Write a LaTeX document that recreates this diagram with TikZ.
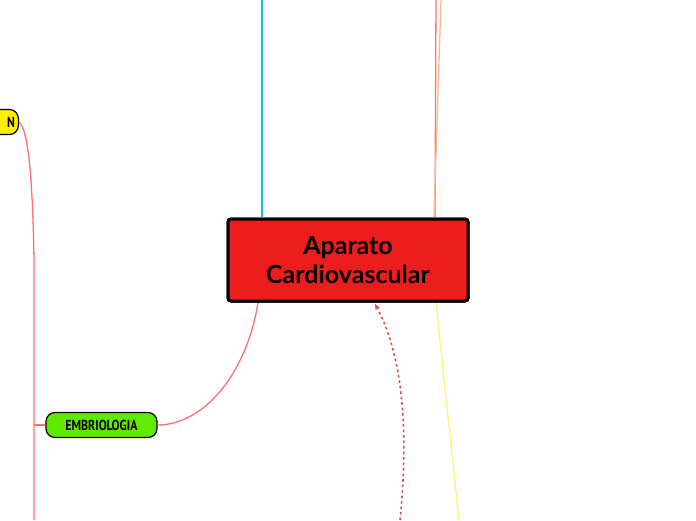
\documentclass[tikz,border=0pt]{standalone}
\usepackage{fontspec}
\setmainfont{Lato}
\newfontfamily\tagfont{PT Sans}
\usetikzlibrary{arrows.meta}
\definecolor{mainred}{HTML}{EE1D1D}
\definecolor{lgreen}{HTML}{5FEA00}
\definecolor{lyellow}{HTML}{FFEE00}
\definecolor{edgered}{HTML}{FF7070}
\definecolor{edgecyan}{HTML}{10C8D8}
\definecolor{edgeorange}{HTML}{FFB888}
\definecolor{edgeyellow}{HTML}{FFF27A}
\definecolor{dotred}{HTML}{E04848}
\begin{document}
\begin{tikzpicture}[x=1pt,y=-1pt,
  central/.style={draw=black, line width=3pt, fill=mainred, rounded corners=3pt,
    minimum width=240pt, minimum height=82pt, align=center,
    font=\fontsize{25}{29}\selectfont\bfseries, inner sep=0pt},
  tagnode/.style={draw=black, line width=1.2pt, rounded corners=9pt,
    minimum height=25pt, inner sep=0pt,
    font=\tagfont\fontsize{14.5}{16}\selectfont\bfseries},
  edge/.style={line width=1.3pt},
]
\useasboundingbox (0,0) rectangle (696,520);
\clip (0,0) rectangle (696,520);
\coordinate (ctop) at (262,0);
\coordinate (rtop) at (436,0);
\coordinate (otop) at (441,0);
\coordinate (ybot) at (459,520);
\coordinate (dbot) at (400,520);
\coordinate (lbot) at (34,520);
\coordinate (ljoin) at (34,425);

\node[central] (main) at (348,260) {Aparato\\Cardiovascular};
\node[tagnode, fill=lgreen, minimum width=111pt] (emb) at (101.5,425) {\scalebox{0.82}[1]{EMBRIOLOGIA}};
\node[tagnode, fill=lyellow, minimum width=80pt, anchor=east, text width=73pt, align=right] (yel) at (19,122) {\scalebox{0.82}[1]{N}};

\draw[edge, edgecyan] (ctop) -- (262,217);
\draw[edge, edgered] (rtop) -- (435,217);
\draw[edge, edgeorange] (otop) -- (434,217);
\draw[edge, edgeyellow] (436,303) -- (ybot);
\draw[edge, edgered] (258,303) .. controls (245,380) and (200,425) .. (emb.east);
\draw[edge, edgered] (yel.east) .. controls (30,130) and (33,200) .. (34,260) -- (lbot);
\draw[edge, edgered] (ljoin) -- (emb.west);
\draw[line width=1.6pt, dotred, dash pattern=on 2.5pt off 3pt, -{Stealth[length=6pt,width=5pt]}]
  (dbot) .. controls (410,420) and (400,350) .. (375,304);
\node[central] at (main) {Aparato\\Cardiovascular};
\end{tikzpicture}
\end{document}
